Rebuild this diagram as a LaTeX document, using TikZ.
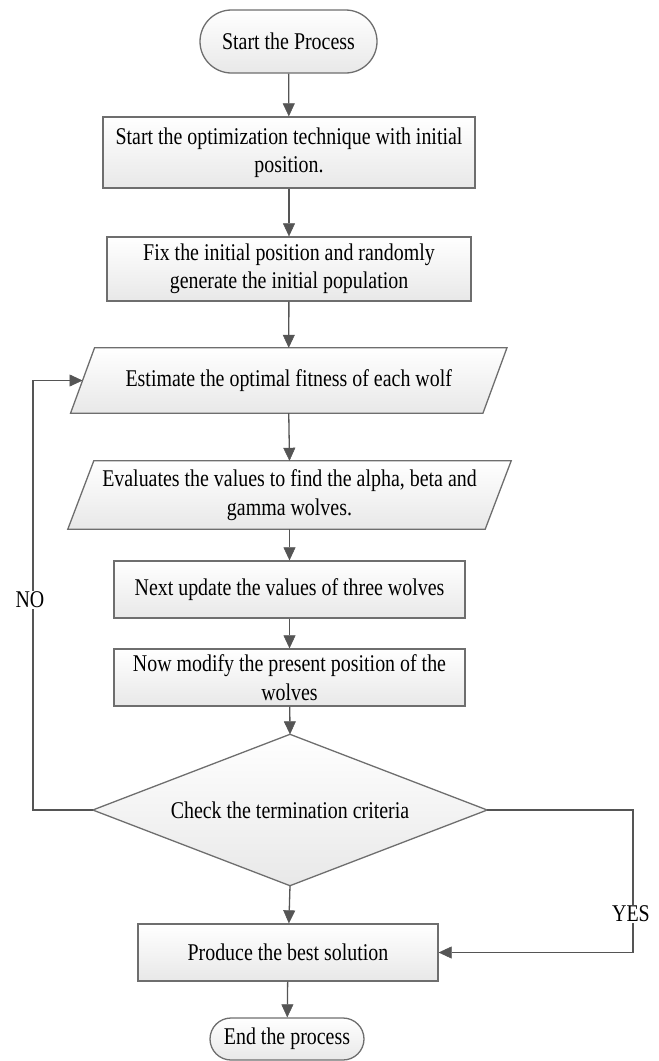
\documentclass[tikz,border=0pt]{standalone}
\usepackage{fontspec}
\setmainfont{Liberation Serif}[FakeStretch=0.83]
\usetikzlibrary{shapes.geometric,shapes.misc,arrows.meta,calc}
\definecolor{edgegray}{HTML}{6E6E6E}
\definecolor{arrowgray}{HTML}{555555}
\tikzset{
  boxfill/.style={top color=white, bottom color=black!9, draw=edgegray, line width=1.3pt},
  procbox/.style={boxfill, rectangle, inner sep=0pt, align=center},
  pill/.style={boxfill, rounded rectangle, inner sep=0pt, align=center},
  ioanchor/.style={rectangle, inner sep=0pt, align=center},
  flow/.style={draw=arrowgray, line width=1.3pt, -{Triangle[length=13pt,width=12pt,fill=arrowgray,line width=0.5pt]}},
  lbl/.style={fill=white, inner sep=1pt},
}
\begin{document}
\begin{tikzpicture}[x=1pt, y=-1pt, font=\fontsize{24}{28.5}\selectfont]
\useasboundingbox (0,0) rectangle (659,1061);

\node[pill, minimum width=177pt, minimum height=63pt] (start) at (288.5,41.5) {Start the Process};
\node[procbox, minimum width=372pt, minimum height=71pt] (b1) at (289,152.5) {Start the optimization technique with initial\\position.};
\node[procbox, minimum width=364pt, minimum height=64pt] (b2) at (289,269) {Fix the initial position and randomly\\generate the initial population};

% parallelograms
\node[ioanchor, minimum width=412pt, minimum height=65pt] (p1) at (288.75,380.5) {};
\shade[boxfill] ($(p1.north west)+(12,0)$) -- ($(p1.north east)+(12,0)$) -- ($(p1.south east)+(-12,0)$) -- ($(p1.south west)+(-12,0)$) -- cycle;
\node (p1t) at (p1.center) {Estimate the optimal fitness of each wolf};

\node[ioanchor, minimum width=417pt, minimum height=68pt] (p2) at (289.5,495) {};
\shade[boxfill] ($(p2.north west)+(13,0)$) -- ($(p2.north east)+(13,0)$) -- ($(p2.south east)+(-13,0)$) -- ($(p2.south west)+(-13,0)$) -- cycle;
\node[align=center] (p2t) at (p2.center) {Evaluates the values to find the alpha, beta and\\gamma wolves.};

\node[procbox, minimum width=351pt, minimum height=57pt] (b3) at (289.5,589.5) {Next update the values of three wolves};
\node[procbox, minimum width=351pt, minimum height=57pt] (b4) at (289.5,677.5) {Now modify the present position of the\\wolves};

% decision diamond
\node[ioanchor, minimum width=394pt, minimum height=151pt] (d) at (290,810) {};
\shade[boxfill] (d.north) -- (d.east) -- (d.south) -- (d.west) -- cycle;
\node (dt) at (d.center) {Check the termination criteria};

\node[procbox, minimum width=300pt, minimum height=57pt] (b5) at (288,952.5) {Produce the best solution};
\node[pill, minimum width=154pt, minimum height=42pt] (end) at (287,1039) {End the process};

% main flow
\draw[flow] (start) -- (b1);
\draw[flow] (b1) -- (b2);
\draw[flow] (b2) -- (p1.north);
\draw[flow] (p1.south) -- (p2.north);
\draw[flow] (p2.south) -- (b3);
\draw[flow] (b3) -- (b4);
\draw[flow] (b4) -- (d.north);
\draw[flow] (d.south) -- (b5);
\draw[flow] (b5) -- (end);

% NO loop
\coordinate (noc1) at (33,810);
\coordinate (noc2) at (33,380.5);
\draw[flow] (d.west) -- (noc1) -- (noc2) -- (p1.west);
\node[lbl] (no) at (30,600) {NO};

% YES branch
\coordinate (yc1) at (633,810);
\coordinate (yc2) at (633,952.5);
\draw[flow] (d.east) -- (yc1) -- (yc2) -- (b5.east);
\node[lbl] (yes) at (631,914) {YES};
\end{tikzpicture}
\end{document}
